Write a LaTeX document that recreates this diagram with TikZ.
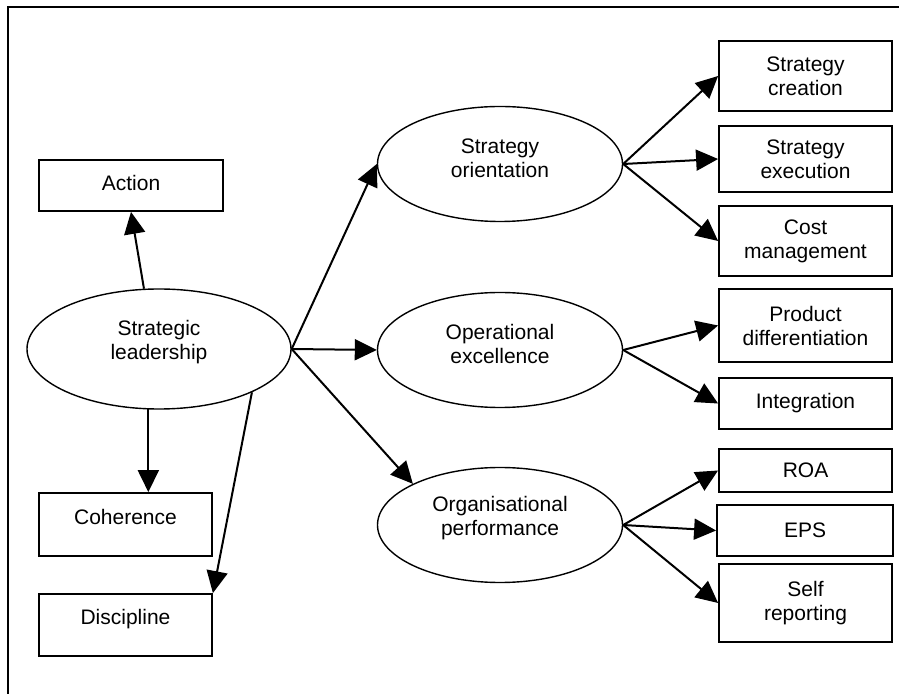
\documentclass[tikz,border=0pt]{standalone}
\usepackage{fontspec}
\setmainfont{Liberation Sans}
\usetikzlibrary{arrows.meta,shapes.geometric}
\tikzset{
	box/.style={draw, line width=0.9pt, minimum width=86.5pt, inner sep=2pt, align=center},
	construct/.style={draw, ellipse, line width=0.7pt, minimum width=122.5pt, minimum height=57.5pt, inner sep=1pt, align=center, text depth=6pt},
	arr/.style={-{Triangle[length=11pt,width=10.5pt]}, line width=1pt},
}

\begin{document}
\begin{tikzpicture}[x=0.5pt, y=-0.5pt, font=\fontsize{10.5}{12}\selectfont]
		\useasboundingbox (0,0) rectangle (899,694);
		% Frame
		\draw[line width=1pt] (8,694) -- (8,7) -- (899,7);

		% Define nodes
		\node[construct, minimum width=132pt, minimum height=60pt, text depth=9pt] (SL) at (159,349) {Strategic\\leadership};
		\node[box, minimum width=92pt, minimum height=25.5pt, text depth=3pt] (Act) at (131,185.5) {Action};
		\node[box, minimum height=31.5pt, text depth=8pt] (Coh) at (125.5,524.5) {Coherence};
		\node[box, minimum height=31pt, text depth=8pt] (Dis) at (125.5,625) {Discipline};

		\node[construct] (SO) at (500,164) {Strategy\\orientation};
		\node[construct] (OE) at (500,350) {Operational\\excellence};
		\node[construct, text depth=9pt] (OP) at (500,525) {Organisational\\performance};

		\node[box, minimum height=35pt] (SC) at (805.5,76) {Strategy\\creation};
		\node[box, minimum height=33pt] (SE) at (805.5,159) {Strategy\\execution};
		\node[box, minimum height=35pt] (CM) at (805.5,241) {Cost\\management};
		\node[box, minimum height=36.5pt] (PD) at (805.5,325.5) {Product\\differentiation};
		\node[box, minimum height=25.5pt] (Int) at (805.5,403.5) {Integration};
		\node[box, minimum height=21.5pt] (ROA) at (805.5,470.5) {ROA};
		\node[box, minimum width=88pt, minimum height=25.5pt] (EPS) at (805,530.5) {EPS};
		\node[box, minimum height=39pt] (SR) at (805.5,603) {Self\\reporting};

		% Connect the nodes
		\draw[arr] (SL.104) -- (Act.south);
		\draw[arr] (SL.260) -- (SL.260 |- Coh.north);
		\draw[arr] (SL.335) -- (Dis.north east);
		\draw[arr] (SL.east) -- (SO.west);
		\draw[arr] (SL.east) -- (OE.west);
		\draw[arr] (SL.east) -- (OP.north west);

		\foreach \t in {SC,SE,CM} \draw[arr] (SO.east) -- (\t.west);
		\foreach \t in {PD,Int} \draw[arr] (OE.east) -- (\t.west);
		\foreach \t in {ROA,EPS,SR} \draw[arr] (OP.east) -- (\t.west);

	\end{tikzpicture}
\end{document}
